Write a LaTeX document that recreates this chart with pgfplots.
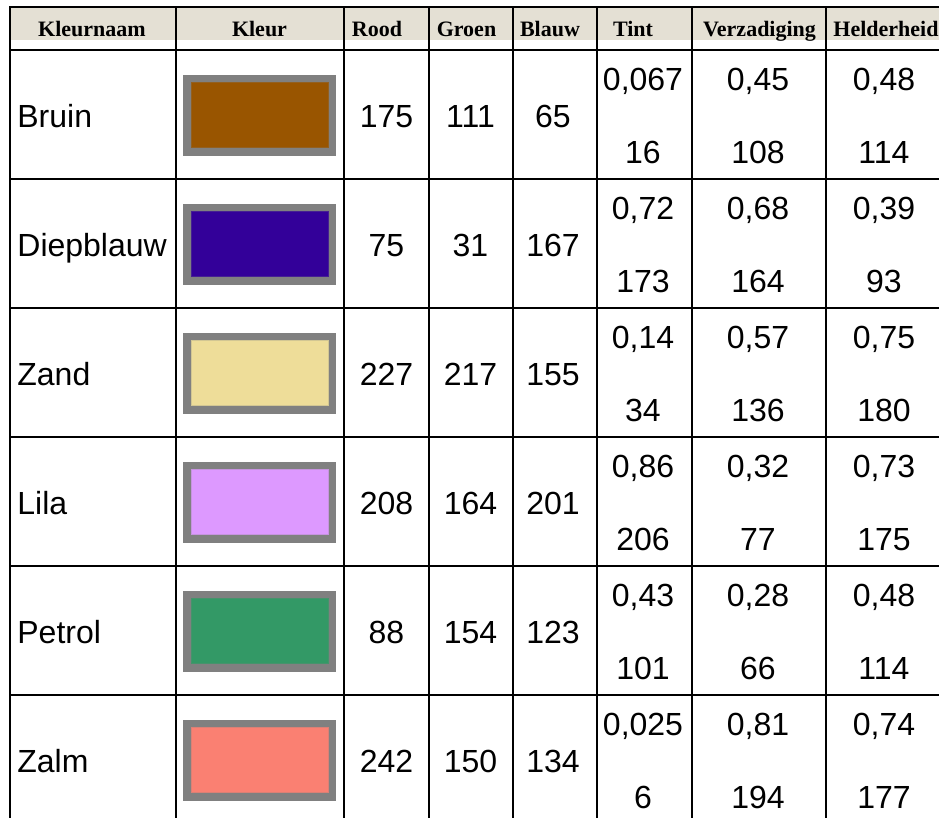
\documentclass[border=0pt]{standalone}
\usepackage{fontspec}
\setmainfont{Liberation Sans}
\newfontfamily\hdrfont{Liberation Serif}
\usepackage{pgfplots}
\usepackage{pgfplotstable}
\pgfplotsset{compat=1.18}
\definecolor{beige}{RGB}{228,224,212}
\definecolor{swgray}{RGB}{128,128,128}
\definecolor{bruin}{RGB}{153,85,0}
\definecolor{diepblauw}{RGB}{51,0,153}
\definecolor{zand}{RGB}{238,221,153}
\definecolor{lila}{RGB}{221,153,255}
\definecolor{petrol}{RGB}{51,153,102}
\definecolor{zalm}{RGB}{250,128,114}

% header labels (x centre in px)
\pgfplotstableread{
x label
92 Kleurnaam
259.5 Kleur
377 Rood
466.5 Groen
550 Blauw
633 Tint
759.5 Verzadiging
886 Helderheid
}\kop

% rows: name, baselines (single, upper, lower), values
\pgfplotstableread{
name ys yu yl R G B H S L Hn Sn Ln
Bruin 127.5 91 163.5 175 111 65 0,067 0,45 0,48 16 108 114
Diepblauw 256.5 220 292.5 75 31 167 0,72 0,68 0,39 173 164 93
Zand 385.5 349 421.5 227 217 155 0,14 0,57 0,75 34 136 180
Lila 514.5 478 550.5 208 164 201 0,86 0,32 0,73 206 77 175
Petrol 643.5 607 679.5 88 154 123 0,43 0,28 0,48 101 66 114
Zalm 772.5 736 808.5 242 150 134 0,025 0,81 0,74 6 194 177
}\kleuren

\pgfplotsset{
  celltext/.style={draw=none, mark=none, point meta=explicit symbolic,
    nodes near coords={\pgfplotspointmeta},
    nodes near coords align={anchor=base},
    every node near coord/.append style={font=\fontsize{16}{19}\selectfont, inner sep=0pt, text=black}},
}

\begin{document}
\begin{tikzpicture}
\begin{axis}[name=ax, width=469.5pt, height=409pt, scale only axis,
  xmin=0, xmax=939, ymin=0, ymax=818, y dir=reverse,
  axis lines=none, ticks=none, clip=false]

% header band
\addplot[fill=beige, draw=none] coordinates {(10,7) (939,7) (939,40.5) (10,40.5)} --cycle;

% swatches
\addplot[fill=swgray, draw=none] coordinates {(183,75) (336,75) (336,156) (183,156)} --cycle;
\addplot[fill=bruin, draw=bruin!75!swgray, line width=0.5pt] coordinates {(191,83) (328,83) (328,148) (191,148)} --cycle;
\addplot[fill=swgray, draw=none] coordinates {(183,204) (336,204) (336,285) (183,285)} --cycle;
\addplot[fill=diepblauw, draw=diepblauw!75!swgray, line width=0.5pt] coordinates {(191,212) (328,212) (328,277) (191,277)} --cycle;
\addplot[fill=swgray, draw=none] coordinates {(183,333) (336,333) (336,414) (183,414)} --cycle;
\addplot[fill=zand, draw=zand!75!swgray, line width=0.5pt] coordinates {(191,341) (328,341) (328,406) (191,406)} --cycle;
\addplot[fill=swgray, draw=none] coordinates {(183,462) (336,462) (336,543) (183,543)} --cycle;
\addplot[fill=lila, draw=lila!75!swgray, line width=0.5pt] coordinates {(191,470) (328,470) (328,535) (191,535)} --cycle;
\addplot[fill=swgray, draw=none] coordinates {(183,591) (336,591) (336,672) (183,672)} --cycle;
\addplot[fill=petrol, draw=petrol!75!swgray, line width=0.5pt] coordinates {(191,599) (328,599) (328,664) (191,664)} --cycle;
\addplot[fill=swgray, draw=none] coordinates {(183,720) (336,720) (336,801) (183,801)} --cycle;
\addplot[fill=zalm, draw=zalm!75!swgray, line width=0.5pt] coordinates {(191,728) (328,728) (328,793) (191,793)} --cycle;

% grid lines
\addplot[black, line width=1pt] coordinates {(9.5,7) (939,7)};
\addplot[black, line width=0.75pt, unbounded coords=jump] coordinates {
 (10,50) (939,50) (0,nan)
 (10,179) (939,179) (0,nan)
 (10,308) (939,308) (0,nan)
 (10,437) (939,437) (0,nan)
 (10,566) (939,566) (0,nan)
 (10,695) (939,695)};
\addplot[black, line width=1pt, unbounded coords=jump] coordinates {
 (10,6.5) (10,818) (0,nan)
 (176,6.5) (176,818) (0,nan)
 (344,6.5) (344,818) (0,nan)
 (429,6.5) (429,818) (0,nan)
 (512.5,6.5) (512.5,818) (0,nan)
 (596.5,6.5) (596.5,818) (0,nan)
 (692,6.5) (692,818) (0,nan)
 (826,6.5) (826,818)};

% header text
\addplot[draw=none, mark=none, point meta=explicit symbolic,
  nodes near coords={\pgfplotspointmeta},
  nodes near coords align={anchor=base},
  every node near coord/.append style={font=\hdrfont\bfseries\fontsize{11}{13}\selectfont, inner sep=0pt, text=black}]
  table[x=x, y expr=36.5, meta=label] {\kop};

% names
\addplot[draw=none, mark=none, point meta=explicit symbolic,
  nodes near coords={\pgfplotspointmeta},
  nodes near coords align={anchor=base west},
  every node near coord/.append style={font=\fontsize{16}{19}\selectfont, inner sep=0pt, text=black}]
  table[x expr=17, y=ys, meta=name] {\kleuren};

% values
\addplot[celltext] table[x expr=386.5, y=ys, meta=R] {\kleuren};
\addplot[celltext] table[x expr=470.5, y=ys, meta=G] {\kleuren};
\addplot[celltext] table[x expr=553, y=ys, meta=B] {\kleuren};
\addplot[celltext] table[x expr=643, y=yu, meta=H] {\kleuren};
\addplot[celltext] table[x expr=758, y=yu, meta=S] {\kleuren};
\addplot[celltext] table[x expr=884, y=yu, meta=L] {\kleuren};
\addplot[celltext] table[x expr=643, y=yl, meta=Hn] {\kleuren};
\addplot[celltext] table[x expr=758, y=yl, meta=Sn] {\kleuren};
\addplot[celltext] table[x expr=884, y=yl, meta=Ln] {\kleuren};
\end{axis}
\pgfresetboundingbox
\path (ax.south west) rectangle (ax.north east);
\end{tikzpicture}
\end{document}
